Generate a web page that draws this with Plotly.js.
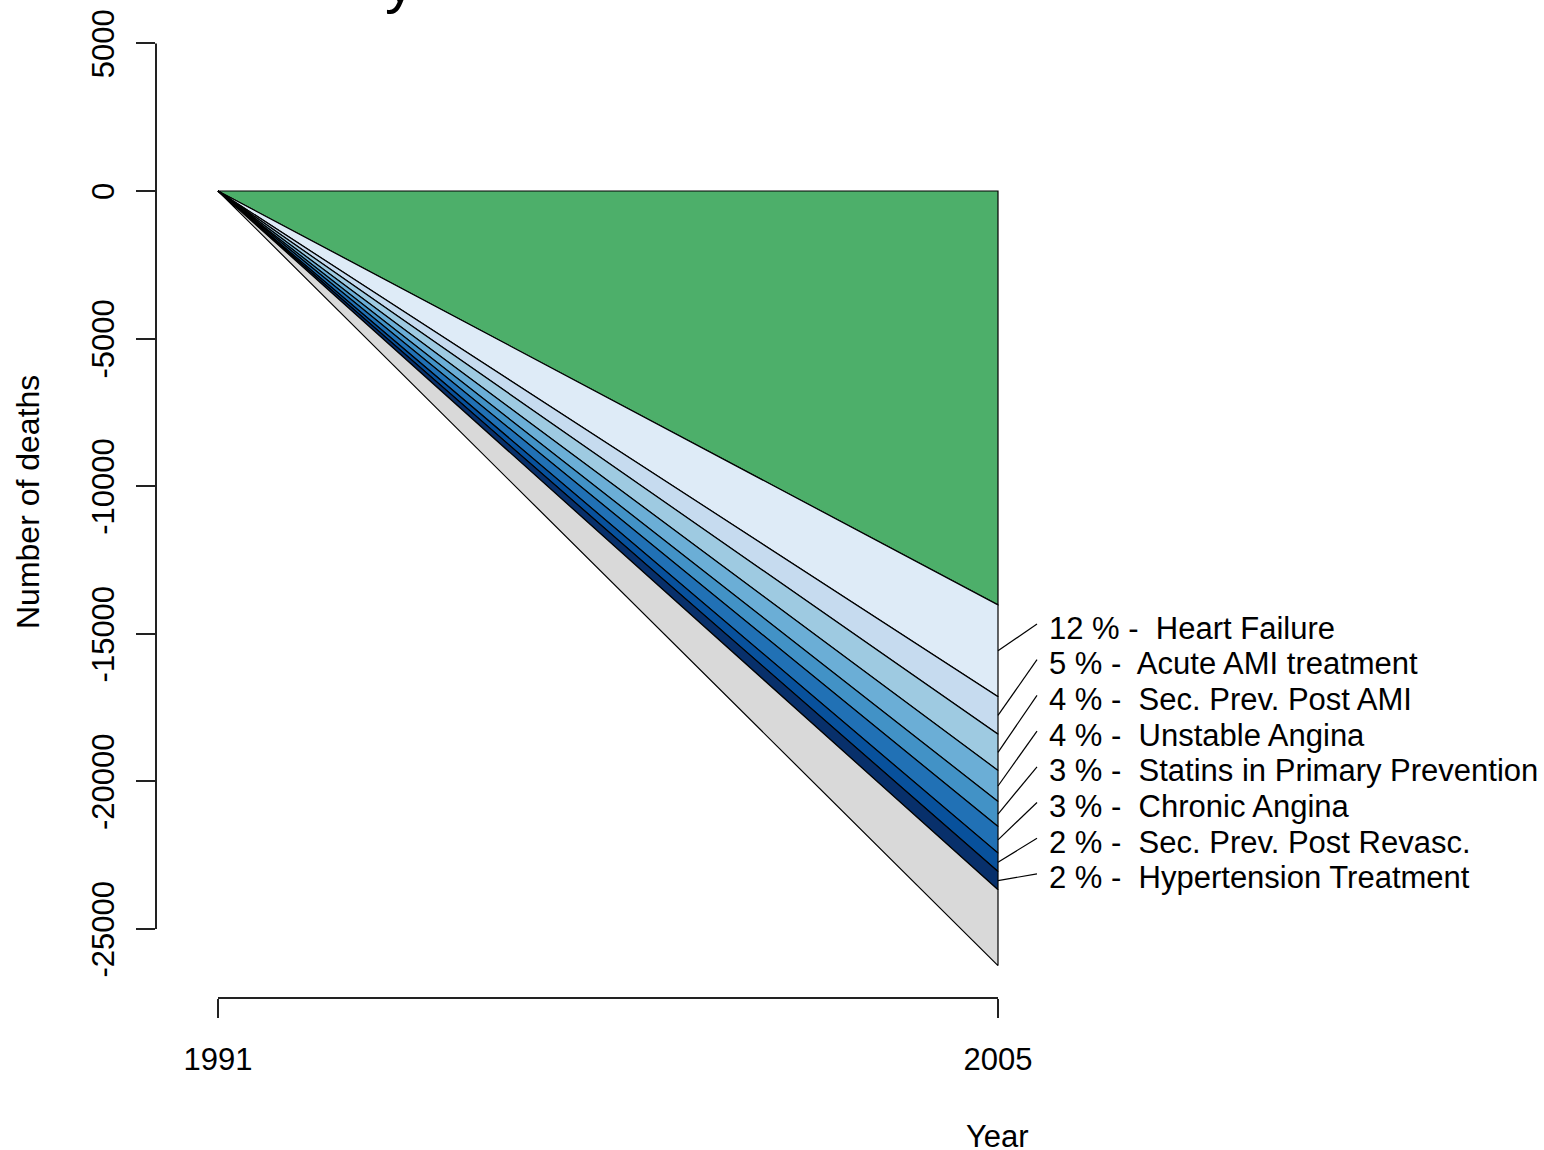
<!DOCTYPE html>
<html>
<head>
<meta charset="utf-8">
<script src="https://cdn.plot.ly/plotly-3.0.1.min.js"></script>
<style>html,body{margin:0;padding:0;background:#fff;}</style>
</head>
<body>
<div id="chart" style="width:1544px;height:1150px;"></div>
<script>
// ---- data (deaths prevented/postponed, 1991 -> 2005) ----
const years = [1991, 2005];
const greenArea        = [0, 14020];
const heartFailure     = [0, 3110];
const acuteAMI         = [0, 1270];
const secPrevPostAMI   = [0, 1230];
const unstableAngina   = [0, 1050];
const statinsPrimary   = [0, 850];
const chronicAngina    = [0, 900];
const secPrevRevasc    = [0, 620];
const hypertension     = [0, 620];
const grayArea         = [0, 2570];

const bandNames = ['Heart Failure', 'Acute AMI treatment', 'Sec. Prev. Post AMI', 'Unstable Angina',
  'Statins in Primary Prevention', 'Chronic Angina', 'Sec. Prev. Post Revasc.', 'Hypertension Treatment'];
const bandPercents = [12, 5, 4, 4, 3, 3, 2, 2];
const yTickVals = [-25000, -20000, -15000, -10000, -5000, 0, 5000];
const yTickText = ['-25000', '-20000', '-15000', '-10000', '-5000', '0', '5000'];
const xTickVals = [1991, 2005];
const xTickText = ['1991', '2005'];

// ---- styling ----
const colors = ['#4daf6a', '#deebf7', '#c6dbef', '#9ecae1', '#6baed6', '#4292c6', '#2171b5', '#08519c', '#08306b', '#d9d9d9'];
const series = [greenArea, heartFailure, acuteAMI, secPrevPostAMI, unstableAngina, statinsPrimary,
  chronicAngina, secPrevRevasc, hypertension, grayArea];

// plot geometry (pixels)
const L = 156, R = 1060, T = 20, B = 998;
const PX1991 = 218, PX2005 = 998;
const pxPerYear = (PX2005 - PX1991) / (years[1] - years[0]);
const xRange = [years[0] - (PX1991 - L) / pxPerYear, years[1] + (R - PX2005) / pxPerYear];
const zeroPx = 191, k = 738 / 25000;
const yRange = [-(B - zeroPx) / k, (zeroPx - T) / k];
const xp = px => (px - L) / (R - L);
const yp = py => (B - py) / (B - T);
const vToPx = v => zeroPx - v * k;

const FONT = 'Liberation Sans, Arial, sans-serif';

// cumulative stacking (negative downward)
let cum = years.map(() => 0);
const bounds = [];
const traces = [];
series.forEach((s, i) => {
  const upper = cum.slice();
  const lower = cum.map((c, j) => c - s[j]);
  bounds.push({upper, lower});
  traces.push({
    x: years.concat(years.slice().reverse()),
    y: upper.concat(lower.slice().reverse()),
    type: 'scatter', mode: 'lines', fill: 'toself',
    fillcolor: colors[i],
    line: {color: '#000', width: 1.2},
    hoverinfo: 'skip', showlegend: false
  });
  cum = lower;
});

const shapes = [
  // y axis line
  {type: 'line', xref: 'paper', yref: 'y', x0: 0, x1: 0, y0: yTickVals[0], y1: yTickVals[yTickVals.length - 1],
   line: {color: '#222', width: 2}},
  // x axis line
  {type: 'line', xref: 'x', yref: 'paper', x0: xTickVals[0], x1: xTickVals[1], y0: 0, y1: 0,
   line: {color: '#222', width: 2}}
];
const annotations = [];
const labelTop = 628, labelStep = 35.7;
bandNames.forEach((nm, i) => {
  const b = bounds[i + 1];
  const midV = (b.upper[1] + b.lower[1]) / 2;
  const ly = labelTop + i * labelStep;
  shapes.push({type: 'line', xref: 'paper', yref: 'paper',
    x0: xp(PX2005), y0: yp(vToPx(midV)), x1: xp(1037), y1: yp(ly - 4),
    line: {color: '#000', width: 1.2}});
  annotations.push({xref: 'paper', yref: 'paper', x: xp(1047), y: yp(ly),
    xanchor: 'left', yanchor: 'middle', showarrow: false,
    text: bandPercents[i] + ' % -\u00a0 ' + nm,
    font: {family: FONT, size: 31, color: '#000'}});
});
// axis titles
annotations.push({xref: 'paper', yref: 'paper', x: xp(997), y: yp(1136), xanchor: 'center', yanchor: 'middle',
  showarrow: false, text: 'Year', font: {family: FONT, size: 31, color: '#000'}});
annotations.push({xref: 'paper', yref: 'paper', x: xp(28), y: yp(502), xanchor: 'center', yanchor: 'middle',
  showarrow: false, text: 'Number of deaths', textangle: -90, font: {family: FONT, size: 32, color: '#000'}});
// fragment of the cut-off main title
annotations.push({xref: 'paper', yref: 'paper', x: xp(400), y: yp(-19), xanchor: 'center', yanchor: 'middle',
  showarrow: false, text: 'y', font: {family: FONT, size: 60, color: '#000'}});

const layout = {
  width: 1544, height: 1150,
  margin: {l: L, r: 1544 - R, t: T, b: 1150 - B, pad: 0},
  paper_bgcolor: '#fff', plot_bgcolor: '#fff',
  showlegend: false,
  xaxis: {range: xRange, showgrid: false, zeroline: false, showline: false,
    tickmode: 'array', tickvals: xTickVals, ticktext: xTickText,
    ticks: 'outside', ticklen: 19, tickwidth: 2, tickcolor: '#222',
    ticklabelstandoff: 15,
    tickfont: {family: FONT, size: 31, color: '#000'}},
  yaxis: {range: yRange, showgrid: false, zeroline: false, showline: false,
    tickmode: 'array', tickvals: yTickVals, ticktext: yTickText,
    ticks: 'outside', ticklen: 19, tickwidth: 2, tickcolor: '#222',
    tickangle: -90, ticklabelstandoff: 10, ticklabelshift: 5,
    tickfont: {family: FONT, size: 31, color: '#000'}},
  shapes: shapes,
  annotations: annotations
};

Plotly.newPlot('chart', traces, layout, {staticPlot: true, displayModeBar: false});
</script>
</body>
</html>
